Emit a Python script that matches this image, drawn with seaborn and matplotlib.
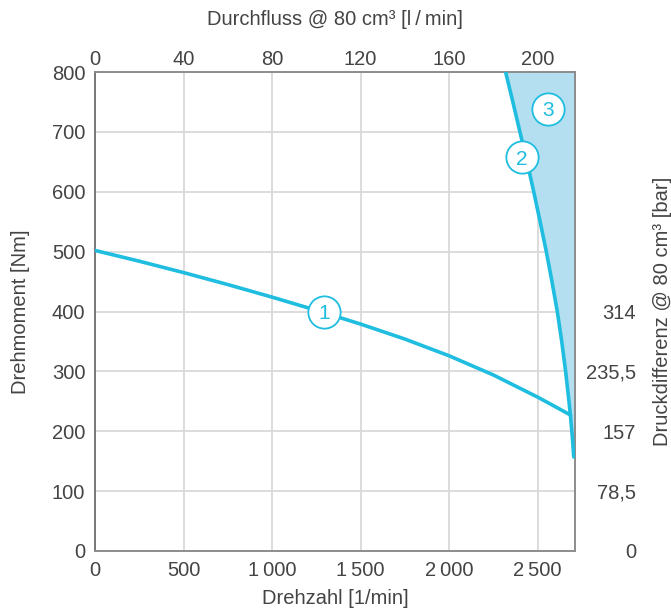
import matplotlib
matplotlib.use("Agg")
import matplotlib.pyplot as plt
import seaborn as sns
import pandas as pd

# Kennlinie 1: Drehmoment über Drehzahl
speed_1 = [0, 250, 500, 750, 1000, 1250, 1500, 1750, 2000, 2250, 2500, 2600, 2686]
torque_1 = [502, 484, 465, 445, 424, 402, 379, 354, 326, 294, 257, 241, 227]

# Kennlinie 2: Grenzkurve (Drehzahl bei gegebenem Drehmoment)
torque_2 = [800, 750, 700, 650, 600, 550, 500, 450, 400, 350, 300, 250, 224, 190, 157]
speed_2 = [2319, 2360, 2400, 2440, 2478, 2514, 2549, 2581, 2611, 2636, 2658, 2677, 2686, 2696, 2704]

# Markierungen
marker_ids = ["1", "2", "3"]
marker_speed = [1292, 2413, 2558]
marker_torque = [400, 658, 739]

# Achsenbeschriftungen
speed_ticks = [0, 500, 1000, 1500, 2000, 2500]
speed_labels = ["0", "500", "1\u2009000", "1\u2009500", "2\u2009000", "2\u2009500"]
torque_ticks = [0, 100, 200, 300, 400, 500, 600, 700, 800]
flow_ticks = [0, 40, 80, 120, 160, 200]
pressure_pos = [0, 100, 200, 300, 400]
pressure_labels = ["0", "78,5", "157", "235,5", "314"]

DISPLACEMENT = 0.08  # l pro Umdrehung (80 cm³)
X_MAX = 2711
Y_MAX = 800

LINE = "#1fbde0"
FILL = "#b3dff0"
GRID = "#d9d9d9"
SPINE = "#8c8c8c"
TEXT = "#444444"
FS = 14.5

sns.set_theme(style="white")
plt.rcParams["font.family"] = ["Liberation Sans", "DejaVu Sans"]
plt.rcParams["font.size"] = FS

fig = plt.figure(figsize=(6.71, 6.12), dpi=100)
ax = fig.add_axes([95 / 671, 1 - 551 / 612, 480 / 671, 479 / 612])

df1 = pd.DataFrame({"speed": speed_1, "torque": torque_1})
df2 = pd.DataFrame({"speed": speed_2, "torque": torque_2})

# Bereich rechts der Grenzkurve
ax.fill_betweenx(df2["torque"], df2["speed"], X_MAX, color=FILL, lw=0, zorder=1)

sns.lineplot(data=df1, x="speed", y="torque", ax=ax, color=LINE, lw=2.6,
             sort=False, estimator=None, zorder=3)
sns.lineplot(data=df2, x="speed", y="torque", ax=ax, color=LINE, lw=2.6,
             sort=False, estimator=None, zorder=3)

ax.scatter(marker_speed, marker_torque, s=540, facecolor="white",
           edgecolor=LINE, linewidth=1.3, zorder=5, clip_on=False)
for lab, xs, yt in zip(marker_ids, marker_speed, marker_torque):
    ax.text(xs, yt, lab, ha="center", va="center_baseline", color=LINE,
            fontsize=15, zorder=6)

ax.set_xlim(0, X_MAX)
ax.set_ylim(0, Y_MAX)
ax.set_xticks(speed_ticks)
ax.set_xticklabels(speed_labels)
ax.set_yticks(torque_ticks)
ax.grid(True, color=GRID, lw=1.3, zorder=0)
ax.set_axisbelow(True)
ax.tick_params(axis="both", length=0, pad=7, labelsize=FS, colors=TEXT)
ax.set_xlabel("Drehzahl [1/min]", fontsize=FS, color=TEXT, labelpad=7)
ax.set_ylabel("Drehmoment [Nm]", fontsize=FS, color=TEXT, labelpad=16)
for s in ax.spines.values():
    s.set_visible(True)
    s.set_color(SPINE)
    s.set_linewidth(1.4)
ax.spines["left"].set_color("#777777")

# obere Achse: Durchfluss
top = ax.secondary_xaxis("top", functions=(lambda n: n * DISPLACEMENT,
                                            lambda q: q / DISPLACEMENT))
top.set_xticks(flow_ticks)
top.tick_params(length=0, pad=2, labelsize=FS, colors=TEXT)
top.set_xlabel("Durchfluss @ 80 cm³ [l\u2009/\u2009min]", fontsize=FS,
               color=TEXT, labelpad=18)
top.spines["top"].set_visible(False)

# rechte Achse: Druckdifferenz
right = ax.twinx()
right.set_ylim(0, Y_MAX)
right.set_yticks(pressure_pos)
right.set_yticklabels(pressure_labels, ha="right")
right.tick_params(length=0, pad=44, labelsize=FS, colors=TEXT)
right.set_ylabel("Druckdifferenz @ 80 cm³ [bar]", fontsize=FS, color=TEXT,
                 labelpad=12)
right.grid(False)
for s in right.spines.values():
    s.set_visible(False)

fig.savefig("out.png", dpi=100)
